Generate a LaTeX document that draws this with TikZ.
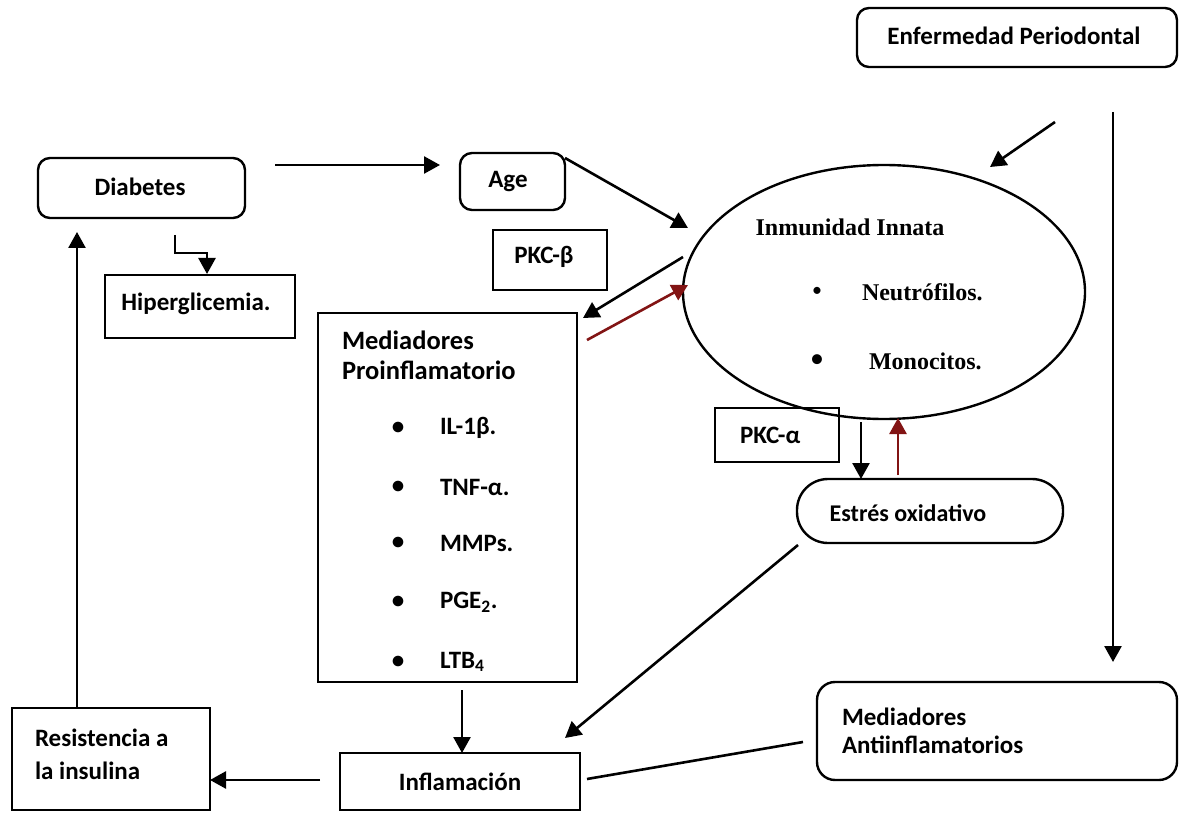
\documentclass[tikz,border=0pt]{standalone}
\usepackage{fontspec}
\setmainfont{Carlito}
\newfontfamily\tms{Liberation Serif}
\usetikzlibrary{arrows.meta,shapes.geometric}
\definecolor{darkred}{RGB}{130,20,20}
\begin{document}
\begin{tikzpicture}[x=1pt,y=-1pt,
  every node/.style={inner sep=0pt, outer sep=0pt},
  box/.style={draw, line width=2.4pt},
  rbox/.style={draw, line width=2.4pt, rounded corners=12pt},
  lbl/.style={font=\fontsize{25}{28}\selectfont\bfseries},
  big/.style={font=\fontsize{26.5}{30}\selectfont\bfseries},
  tlbl/.style={font=\fontsize{24}{26}\selectfont\tms\bfseries},
  arr/.style={line width=2.6pt, -{Triangle[length=16pt,width=17pt]}},
  rarr/.style={line width=2.6pt, draw=darkred, -{Triangle[length=16pt,width=17pt]}, color=darkred},
  ln/.style={line width=2.6pt}]
\useasboundingbox (0,0) rectangle (1181,813);
\fill[white] (0,0) rectangle (1181,813);

% boxes
\node[rbox, minimum width=320pt, minimum height=59pt] (ep) at (1017,37.5) {};
\node[lbl] at (1014,36) {Enfermedad Periodontal};
\node[rbox, minimum width=207pt, minimum height=60pt] (diab) at (141.5,188) {};
\node[lbl] at (140,187) {Diabetes};
\node[rbox, minimum width=105pt, minimum height=57pt] (age) at (512.5,181.5) {};
\node[lbl] at (508,182) {Age};
\node[box, minimum width=114pt, minimum height=60pt] (pkcb) at (550,260) {};
\node[lbl] at (544,257) {PKC-β};
\node[box, minimum width=190pt, minimum height=63pt] (hip) at (200,306.5) {};
\node[lbl] at (196,304) {Hiperglicemia.};
\node[box, minimum width=259pt, minimum height=369pt] (mp) at (447.5,497.5) {};
\node[big, anchor=west] at (342,340) {Mediadores};
\node[big, anchor=west] at (342,370) {Proinflamatorio};
\foreach \yy/\tt in {428/IL-1β., 487/TNF-α., 543/MMPs., 602/PGE\textsubscript{2}., 662/LTB\textsubscript{4}} {
  \node[lbl] at (398,\yy) {•};
  \node[lbl, anchor=west] at (440,\yy) {\tt};
}
\node[box, minimum width=240pt, minimum height=57pt] (infl) at (460,781.5) {};
\node[lbl] at (460,782) {Inflamación};
\node[box, minimum width=198pt, minimum height=102pt] (res) at (111,759) {};
\node[lbl, anchor=west] at (35,738) {Resistencia a};
\node[lbl, anchor=west] at (35,771) {la insulina};
\node[rbox, rounded corners=18pt, minimum width=360pt, minimum height=98pt] (ma) at (997,731) {};
\node[lbl, anchor=west] at (842,717) {Mediadores};
\node[lbl, anchor=west] at (842,745) {Antiinflamatorios};
\node[draw, ellipse, line width=2.4pt, minimum width=402pt, minimum height=254pt] (ell) at (884,292) {};
\node[tlbl] at (850,227) {Inmunidad Innata};
\node[font=\fontsize{20}{22}\selectfont] at (817,292) {•};
\node[tlbl, anchor=west] at (862,292) {Neutrófilos.};
\node[font=\fontsize{28}{30}\selectfont] at (817,361) {•};
\node[tlbl, anchor=west] at (869,361) {Monocitos.};
\node[box, minimum width=124pt, minimum height=54pt] (pkca) at (777,435) {};
\node[lbl, anchor=west] at (740,435) {PKC-α};
\node[rbox, rounded corners=31pt, minimum width=266pt, minimum height=64pt] (eo) at (930,511) {};
\node[font=\fontsize{24}{26}\selectfont\bfseries] at (908,513) {Estrés oxidativo};

% free ends
\coordinate (c1) at (275,165); \coordinate (c2) at (440,165);
\coordinate (c3) at (565,158); \coordinate (c4) at (688,228);
\coordinate (c5) at (1055,122); \coordinate (c6) at (990,167);
\coordinate (c7) at (1113,112); \coordinate (c8) at (1113,662);
\coordinate (c9) at (683,257); \coordinate (c10) at (583,318);
\coordinate (c11) at (587,340); \coordinate (c12) at (688,285);
\coordinate (c13) at (798,545); \coordinate (c14) at (565,738);
\coordinate (c15) at (803,742); \coordinate (c16) at (587,779);

\draw[arr] (c1) -- (c2);
\draw[arr] (c3) -- (c4);
\draw[arr] (175,235) -- (175,253) -- (207,253) -- (207,274);
\draw[arr] (res.north -| 77,0) -- (77,232);
\draw[arr] (c5) -- (c6);
\draw[arr] (c7) -- (c8);
\draw[arr] (c9) -- (c10);
\draw[rarr] (c11) -- (c12);
\draw[arr] (861,422) -- (eo.north -| 861,0);
\draw[rarr] (898,475) -- (898,418);
\draw[arr] (c13) -- (c14);
\draw[arr] (462,690) -- (infl.north -| 462,0);
\draw[arr] (320,780) -- (res.east |- 0,780);
\draw[ln] (c15) -- (c16);
\end{tikzpicture}
\end{document}
